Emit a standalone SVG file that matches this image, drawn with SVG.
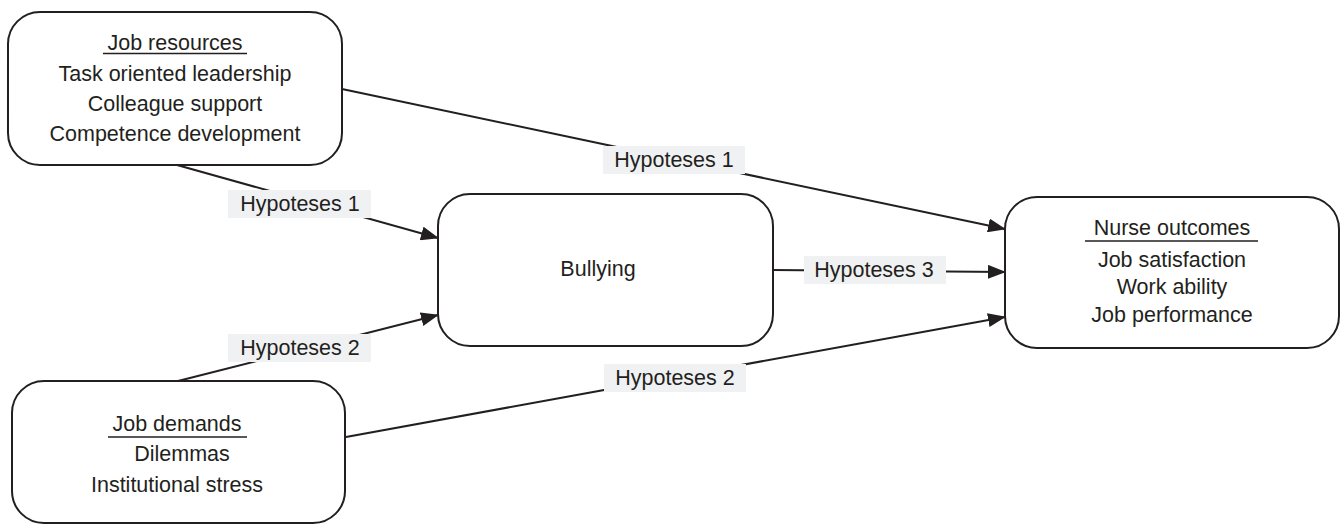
<svg xmlns="http://www.w3.org/2000/svg" width="1341" height="530" viewBox="0 0 1341 530">
<style>
.box{fill:#fff;stroke:#231f20;stroke-width:2}
.t{font-family:"Liberation Sans",Arial,sans-serif;font-size:21.5px;fill:#231f20;text-anchor:middle}
.ul{stroke:#231f20;stroke-width:1.6}
.c{stroke:#231f20;stroke-width:2;fill:none;marker-end:url(#ah)}
.lb{fill:#f0f1f3}
</style>
<defs>
<marker id="ah" markerUnits="userSpaceOnUse" markerWidth="18" markerHeight="14" refX="17" refY="7" orient="auto">
<path d="M0,0 L18,7 L0,14 Z" fill="#231f20"/>
</marker>
</defs>
<g id="connectors">
<line class="c" x1="177" y1="165" x2="438" y2="238"/>
<line class="c" x1="342" y1="89" x2="1005" y2="229"/>
<line class="c" x1="773" y1="270" x2="1005" y2="272"/>
<line class="c" x1="178" y1="381" x2="438" y2="315"/>
<line class="c" x1="346" y1="437" x2="1005" y2="317"/>
<rect class="lb" x="228" y="190" width="143" height="28"/>
<text class="t" x="300" y="211">Hypoteses 1</text>
<rect class="lb" x="603" y="146" width="142" height="28"/>
<text class="t" x="674" y="167">Hypoteses 1</text>
<rect class="lb" x="804" y="256" width="142" height="28"/>
<text class="t" x="874" y="277">Hypoteses 3</text>
<rect class="lb" x="228" y="334" width="143" height="28"/>
<text class="t" x="300" y="355">Hypoteses 2</text>
<rect class="lb" x="604" y="364" width="142" height="28"/>
<text class="t" x="675" y="385">Hypoteses 2</text>
</g>
<g id="job-resources">
<rect class="box" x="8" y="12" width="334" height="153" rx="32"/>
<text class="t" x="175" y="50">Job resources</text>
<line class="ul" x1="103" y1="53.5" x2="247" y2="53.5"/>
<text class="t" x="175" y="81">Task oriented leadership</text>
<text class="t" x="175" y="111">Colleague support</text>
<text class="t" x="175" y="141">Competence development</text>
</g>
<g id="bullying">
<rect class="box" x="438" y="194" width="335" height="152" rx="32"/>
<text class="t" x="598" y="276">Bullying</text>
</g>
<g id="nurse-outcomes">
<rect class="box" x="1005" y="197" width="334" height="151" rx="32"/>
<text class="t" x="1172" y="235">Nurse outcomes</text>
<line class="ul" x1="1085" y1="241" x2="1258" y2="241"/>
<text class="t" x="1172" y="267">Job satisfaction</text>
<text class="t" x="1172" y="294">Work ability</text>
<text class="t" x="1172" y="322">Job performance</text>
</g>
<g id="job-demands">
<rect class="box" x="12" y="381" width="333" height="142" rx="32"/>
<text class="t" x="177" y="431">Job demands</text>
<line class="ul" x1="108" y1="437" x2="247" y2="437"/>
<text class="t" x="182" y="461">Dilemmas</text>
<text class="t" x="177" y="492">Institutional stress</text>
</g>
</svg>
